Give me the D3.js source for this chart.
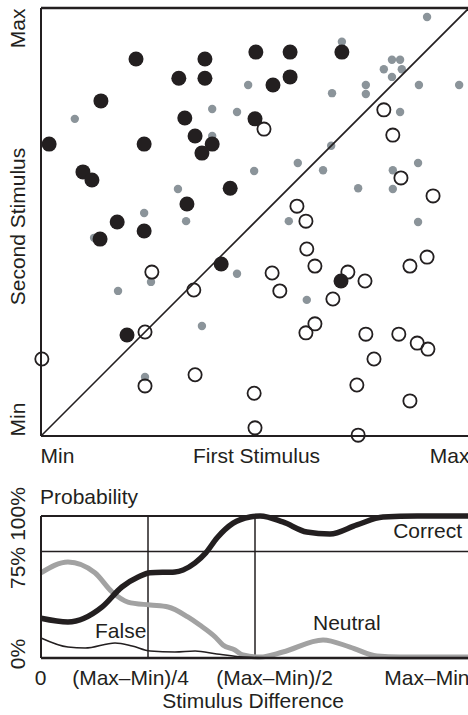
<!DOCTYPE html>
<html>
<head>
<meta charset="utf-8">
<script src="https://cdn.jsdelivr.net/npm/d3@7"></script>
<style>
    body { margin: 0; background: #fff; }
    svg { display: block; }
    text { font-family: "Liberation Sans", Arial, sans-serif; font-size: 21px; fill: #231f20; }
</style>
</head>
<body>
<div id="chart"></div>
<script>

// Scatter: [first stimulus, second stimulus], 0 = Min, 100 = Max
const correctPoints = [
    [22.2, 88.1], [38.3, 88.1], [32.2, 83.6], [38.3, 83.6], [14.0, 78.3], [33.6, 74.3],
    [36.0, 70.1], [40.0, 68.2], [37.6, 66.1], [1.9, 68.2], [24.1, 68.2], [9.8, 61.7],
    [11.9, 59.8], [44.2, 57.9], [34.1, 54.2], [17.8, 50.0], [24.1, 47.9], [50.2, 89.7],
    [58.2, 89.7], [70.3, 89.7], [58.2, 83.9], [54.2, 82.0], [50.0, 74.1], [13.8, 46.0],
    [42.1, 40.2], [20.1, 23.6], [70.1, 36.2]
]
const openPoints = [
    [52.1, 71.7], [80.1, 76.2], [82.2, 70.3], [84.1, 60.3], [91.6, 56.1], [59.8, 53.7],
    [61.9, 50.2], [25.9, 38.3], [35.7, 34.1], [24.3, 24.3], [0.2, 18.0], [24.3, 11.7],
    [36.0, 14.3], [62.1, 43.7], [64.0, 39.7], [54.0, 38.1], [55.8, 33.9], [71.7, 38.3],
    [75.7, 36.2], [68.2, 32.0], [86.2, 39.7], [90.2, 41.8], [64.0, 26.2], [61.9, 24.1],
    [75.9, 23.8], [83.6, 23.8], [87.9, 21.7], [90.4, 20.3], [77.8, 18.0], [73.8, 11.9],
    [86.2, 8.2], [49.8, 10.0], [50.0, 1.9], [74.1, 0.2]
]
const grayPoints = [
    [90.2, 97.9], [70.3, 92.1], [82.0, 87.9], [83.9, 87.9], [80.1, 85.7], [84.3, 85.7],
    [82.0, 83.9], [48.4, 82.0], [75.9, 82.0], [88.3, 82.0], [97.7, 82.0], [68.0, 80.1],
    [75.9, 79.9], [45.8, 75.7], [83.9, 75.7], [67.8, 67.8], [60.0, 63.8], [49.8, 61.9],
    [65.9, 62.1], [82.2, 62.1], [88.1, 63.8], [74.1, 57.9], [82.2, 57.7], [57.9, 50.2],
    [88.1, 50.0], [7.9, 74.1], [40.0, 76.4], [40.0, 70.1], [32.0, 57.7], [24.1, 52.1],
    [33.9, 50.2], [12.4, 46.3], [25.7, 36.0], [18.0, 33.9], [45.8, 37.9], [37.6, 25.7],
    [24.3, 13.8], [62.1, 31.8]
]
const scatterTicks = [0, 50, 100]
const scatterXLabels = ['Min', 'First Stimulus', 'Max']
const scatterYLabels = ['Min', 'Second Stimulus', 'Max']

// Probability curves: [stimulus difference (0..1 of Max-Min), probability]
const correctCurve = [
    [0, 0.28], [0.063, 0.254], [0.143, 0.36], [0.189, 0.5], [0.227, 0.57], [0.255, 0.6],
    [0.313, 0.606], [0.332, 0.62], [0.36, 0.67], [0.385, 0.74], [0.411, 0.845], [0.449, 0.95],
    [0.488, 0.993], [0.512, 1.0], [0.565, 0.958], [0.621, 0.887], [0.675, 0.873],
    [0.738, 0.937], [0.799, 0.993], [0.879, 1.0], [1.0, 1.0]
]
const neutralCurve = [
    [0, 0.6], [0.063, 0.676], [0.126, 0.6], [0.166, 0.465], [0.203, 0.394], [0.255, 0.373],
    [0.297, 0.359], [0.343, 0.289], [0.371, 0.232], [0.407, 0.148], [0.425, 0.092],
    [0.453, 0.056], [0.472, 0.021], [0.512, 0.007], [0.565, 0.042], [0.659, 0.127],
    [0.722, 0.077], [0.785, 0.014], [0.839, 0.007], [1.0, 0.007]
]
const falseCurve = [
    [0, 0.141], [0.063, 0.077], [0.103, 0.07], [0.173, 0.106], [0.213, 0.085], [0.255, 0.049],
    [0.313, 0.042], [0.36, 0.049], [0.411, 0.028], [0.472, 0.007], [0.55, 0], [1.0, 0]
]
const curveLabels = ['Correct', 'Neutral', 'False']
const guideValues = [0.25, 0.5]
const probTicks = [0, 0.75, 1]
const probLabels = ['0%', '75%', '100%']
const diffTicks = [0, 0.25, 0.5, 1]
const diffLabels = ['0', '(Max–Min)/4', '(Max–Min)/2', 'Max–Min']

const ink = '#231f20'
const width = 468, height = 715

let svg = d3.select('#chart').append('svg')
    .attr('width', width)
    .attr('height', height)

// ---------- Scatter plot ----------
let xs = d3.scaleLinear().domain([0, 100]).range([41, 469])
let ys = d3.scaleLinear().domain([0, 100]).range([436, 8])

let scatterG = svg.append('g')

// Frame (left, top, bottom)
scatterG.append('line')
    .attr('x1', xs(0)).attr('x2', xs(0)).attr('y1', ys(100)).attr('y2', ys(0))
    .attr('stroke', ink).attr('stroke-width', 2)
scatterG.append('line')
    .attr('x1', xs(0)).attr('x2', width).attr('y1', ys(100)).attr('y2', ys(100))
    .attr('stroke', ink).attr('stroke-width', 2.5)
scatterG.append('line')
    .attr('x1', xs(0)).attr('x2', width).attr('y1', ys(0)).attr('y2', ys(0))
    .attr('stroke', ink).attr('stroke-width', 2)

// Gray dots first, they sit behind the rest
scatterG.selectAll('.gray')
    .data(grayPoints)
    .join('circle')
    .attr('class', 'gray')
    .attr('cx', d => xs(d[0]))
    .attr('cy', d => ys(d[1]))
    .attr('r', 4.2)
    .attr('fill', '#8b949a')

// Diagonal
scatterG.append('line')
    .attr('x1', xs(0)).attr('y1', ys(0)).attr('x2', xs(100)).attr('y2', ys(100))
    .attr('stroke', ink).attr('stroke-width', 1.6)

scatterG.selectAll('.filled')
    .data(correctPoints)
    .join('circle')
    .attr('class', 'filled')
    .attr('cx', d => xs(d[0]))
    .attr('cy', d => ys(d[1]))
    .attr('r', 7.5)
    .attr('fill', ink)

scatterG.selectAll('.open')
    .data(openPoints)
    .join('circle')
    .attr('class', 'open')
    .attr('cx', d => xs(d[0]))
    .attr('cy', d => ys(d[1]))
    .attr('r', 6.6)
    .attr('fill', 'none')
    .attr('stroke', ink)
    .attr('stroke-width', 1.8)

// Axis labels (Min / title / Max)
let xAxisTop = d3.axisBottom(xs)
    .tickValues(scatterTicks)
    .tickFormat((d, i) => scatterXLabels[i])
    .tickSize(0)
scatterG.append('g')
    .attr('transform', `translate(0,${ys(0)})`)
    .call(xAxisTop)
    .call(g => g.select('.domain').remove())
    .selectAll('text')
    .attr('y', 27)
    .attr('dy', 0)
    .attr('text-anchor', (d, i) => ['start', 'middle', 'end'][i])
    .attr('x', (d, i) => [-1, 1, 0][i])

let yAxisTop = d3.axisLeft(ys)
    .tickValues(scatterTicks)
    .tickFormat((d, i) => scatterYLabels[i])
    .tickSize(0)
scatterG.append('g')
    .attr('transform', `translate(${xs(0)},0)`)
    .call(yAxisTop)
    .call(g => g.select('.domain').remove())
    .selectAll('text')
    .attr('transform', 'rotate(-90)')
    .attr('y', -16)
    .attr('dy', 0)
    .attr('x', (d, i) => [0, -4, 0][i])
    .attr('text-anchor', (d, i) => ['start', 'middle', 'end'][i])

// ---------- Probability chart ----------
let xp = d3.scaleLinear().domain([0, 1]).range([41, 469])
let yp = d3.scaleLinear().domain([0, 1]).range([658, 516])

let probG = svg.append('g')

probG.append('text')
    .attr('x', 40)
    .attr('y', 504)
    .text('Probability')

// Grid / frame
probG.append('line')
    .attr('x1', xp(0)).attr('x2', width).attr('y1', yp(1)).attr('y2', yp(1))
    .attr('stroke', ink).attr('stroke-width', 2)
probG.append('line')
    .attr('x1', xp(0)).attr('x2', width).attr('y1', yp(0.75)).attr('y2', yp(0.75))
    .attr('stroke', ink).attr('stroke-width', 1.5)
probG.selectAll('.guide')
    .data(guideValues)
    .join('line')
    .attr('class', 'guide')
    .attr('x1', d => xp(d)).attr('x2', d => xp(d))
    .attr('y1', yp(1)).attr('y2', yp(0))
    .attr('stroke', ink).attr('stroke-width', 1.5)

let line = d3.line()
    .x(d => xp(d[0]))
    .y(d => yp(d[1]))
    .curve(d3.curveMonotoneX)

probG.append('path')
    .datum(neutralCurve)
    .attr('d', line)
    .attr('fill', 'none')
    .attr('stroke', '#a2a2a2')
    .attr('stroke-width', 5)

probG.append('path')
    .datum(falseCurve)
    .attr('d', line)
    .attr('fill', 'none')
    .attr('stroke', ink)
    .attr('stroke-width', 1.5)

probG.append('path')
    .datum(correctCurve)
    .attr('d', line)
    .attr('fill', 'none')
    .attr('stroke', ink)
    .attr('stroke-width', 5.5)

probG.append('line')
    .attr('x1', xp(0)).attr('x2', xp(0)).attr('y1', yp(1)).attr('y2', yp(0))
    .attr('stroke', ink).attr('stroke-width', 2)
probG.append('line')
    .attr('x1', xp(0)).attr('x2', width).attr('y1', yp(0)).attr('y2', yp(0))
    .attr('stroke', ink).attr('stroke-width', 2.5)

// Curve labels
probG.selectAll('.curve-label')
    .data(curveLabels)
    .join('text')
    .attr('class', 'curve-label')
    .attr('x', (d, i) => [462, 313, 95][i])
    .attr('y', (d, i) => [538, 630, 638][i])
    .attr('text-anchor', (d, i) => i == 0 ? 'end' : 'start')
    .text(d => d)

// X tick labels
let xAxisBottom = d3.axisBottom(xp)
    .tickValues(diffTicks)
    .tickFormat((d, i) => diffLabels[i])
    .tickSize(0)
probG.append('g')
    .attr('transform', `translate(0,${yp(0)})`)
    .call(xAxisBottom)
    .call(g => g.select('.domain').remove())
    .selectAll('text')
    .attr('y', 27)
    .attr('dy', 0)
    .attr('x', (d, i) => [-1, -18, 19, 0][i])
    .attr('text-anchor', (d, i) => i == 3 ? 'end' : 'middle')

// Y tick labels (rotated)
let yAxisBottom = d3.axisLeft(yp)
    .tickValues(probTicks)
    .tickFormat((d, i) => probLabels[i])
    .tickSize(0)
probG.append('g')
    .attr('transform', `translate(${xp(0)},0)`)
    .call(yAxisBottom)
    .call(g => g.select('.domain').remove())
    .selectAll('text')
    .attr('transform', 'rotate(-90)')
    .attr('y', -16)
    .attr('dy', 0)
    .attr('x', (d, i) => [4.5, -16, 2.5][i])
    .attr('text-anchor', 'middle')

probG.append('text')
    .attr('x', 253)
    .attr('y', 708)
    .attr('text-anchor', 'middle')
    .text('Stimulus Difference')

</script>
</body>
</html>
